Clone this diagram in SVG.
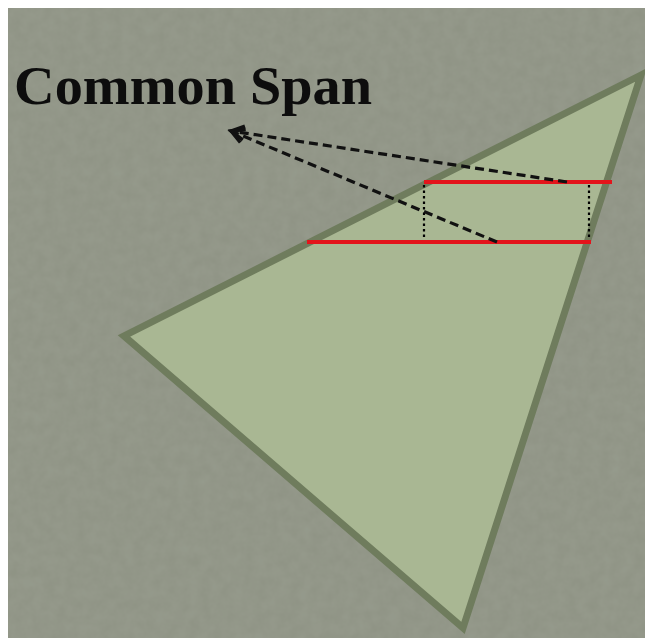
<svg xmlns="http://www.w3.org/2000/svg" width="645" height="638" viewBox="0 0 645 638">
<style>
.red{stroke:#e3141b;stroke-width:4;fill:none}
.dot{stroke:#000;stroke-width:2.2;stroke-dasharray:2.5 3;fill:none}
.dash{stroke:#111;stroke-width:3.2;stroke-dasharray:9 5;fill:none;marker-end:url(#ah)}
.title{font-family:"Liberation Serif",serif;font-weight:bold;font-size:54px;fill:#0d0d0d}
</style>
<defs>
<marker id="ah" markerWidth="20" markerHeight="18" refX="16" refY="9" orient="auto" markerUnits="userSpaceOnUse" viewBox="0 0 20 18">
<path d="M3,2 L16,9 L3,16" fill="none" stroke="#111" stroke-width="3.4"/>
</marker>
<filter id="tex" x="0" y="0" width="100%" height="100%">
<feTurbulence type="fractalNoise" baseFrequency="0.09" numOctaves="3" seed="4" result="n"/>
<feColorMatrix in="n" type="matrix" values="0 0 0 0 0.55  0 0 0 0 0.57  0 0 0 0 0.52  0 0 0 0.12 0" result="c"/>
<feComposite in="c" in2="SourceGraphic" operator="over"/>
</filter>
</defs>
<rect width="645" height="638" fill="#ffffff"/>
<rect x="8" y="8" width="637" height="630" fill="#8e9384" filter="url(#tex)"/>
<g id="triangle">
<polygon points="641,75 124,336 463,628" fill="#a9b793" stroke="#6f7c5d" stroke-width="7" stroke-linejoin="miter"/>
</g>
<g id="title">
<text class="title" x="14" y="104" textLength="358" lengthAdjust="spacingAndGlyphs">Common Span</text>
</g>
<g id="span-top"><line class="red" x1="424" y1="182" x2="612" y2="182"/></g>
<g id="span-bottom"><line class="red" x1="307" y1="242" x2="591" y2="242"/></g>
<g id="connectors">
<line class="dot" x1="424" y1="185" x2="424" y2="239"/>
<line class="dot" x1="589" y1="185" x2="589" y2="239"/>
<line class="dash" x1="567" y1="182" x2="231" y2="131"/>
<line class="dash" x1="497" y1="242" x2="231" y2="131"/>
</g>
</svg>
